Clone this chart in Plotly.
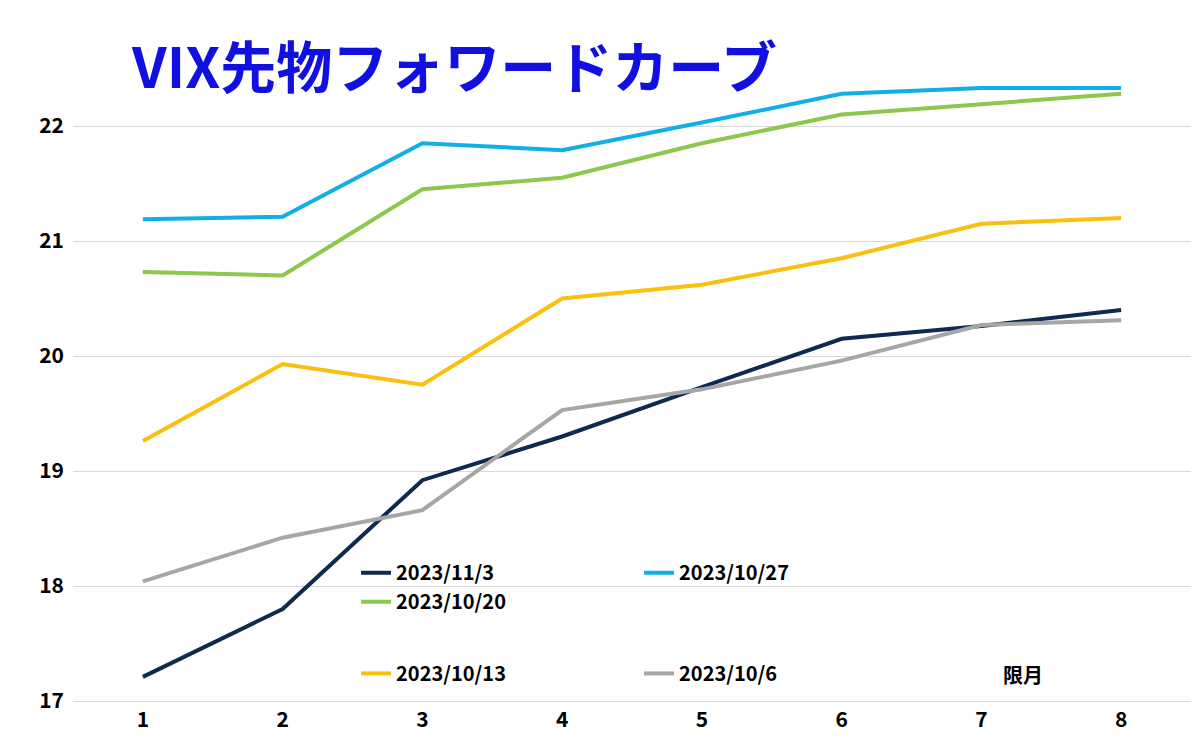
import plotly.graph_objects as go

months = [1, 2, 3, 4, 5, 6, 7, 8]
s_1103 = [17.21, 17.80, 18.92, 19.30, 19.73, 20.15, 20.26, 20.40]
s_1027 = [21.19, 21.21, 21.85, 21.79, 22.03, 22.28, 22.33, 22.33]
s_1020 = [20.73, 20.70, 21.45, 21.55, 21.85, 22.10, 22.19, 22.28]
s_1013 = [19.26, 19.93, 19.75, 20.50, 20.62, 20.85, 21.15, 21.20]
s_1006 = [18.04, 18.42, 18.66, 19.53, 19.71, 19.96, 20.27, 20.31]

series = [
    ("2023/11/3", s_1103, "#0e2a4f", "legend"),
    ("2023/10/27", s_1027, "#13aee8", "legend"),
    ("2023/10/20", s_1020, "#8cc84b", "legend"),
    ("2023/10/13", s_1013, "#fbbf0f", "legend2"),
    ("2023/10/6", s_1006, "#a6a6a6", "legend2"),
]

font = "Noto Sans CJK JP"
fig = go.Figure()
for name, vals, color, leg in series:
    fig.add_trace(go.Scatter(x=months, y=vals, mode="lines", name=name,
                             line=dict(color=color, width=4), legend=leg))

legend_style = dict(orientation="h", xanchor="left", yanchor="middle",
                    entrywidth=238, font=dict(size=20, weight="bold"),
                    bgcolor="rgba(0,0,0,0)")

fig.update_layout(
    width=1200, height=746, paper_bgcolor="white", plot_bgcolor="white",
    margin=dict(l=65, r=17, t=3, b=53),
    font=dict(family=font, size=20, color="black"),
    legend=dict(legend_style, x=0.37, y=0.165),
    legend2=dict(legend_style, x=0.37, y=0.04),
    annotations=[
        dict(text="<b>VIX先物フォワードカーブ</b>", xref="paper", yref="paper",
             x=0.05, y=0.985, xanchor="left", yanchor="top", showarrow=False,
             font=dict(size=56, color="#1010e0", family=font)),
        dict(text="<b>限月</b>", xref="paper", yref="paper", x=0.83, y=0.015,
             xanchor="left", yanchor="bottom", showarrow=False,
             font=dict(size=20, family=font)),
    ],
)
fig.update_xaxes(range=[0.5, 8.5], tickvals=months, showgrid=False,
                 showline=True, linecolor="#d9d9d9", linewidth=1,
                 tickfont=dict(size=21, weight="bold"))
fig.update_yaxes(range=[17, 23], dtick=1, gridcolor="#d9d9d9", zeroline=False,
                 tickfont=dict(size=21, weight="bold"), ticklabelstandoff=8)

fig.write_html("out.html")
